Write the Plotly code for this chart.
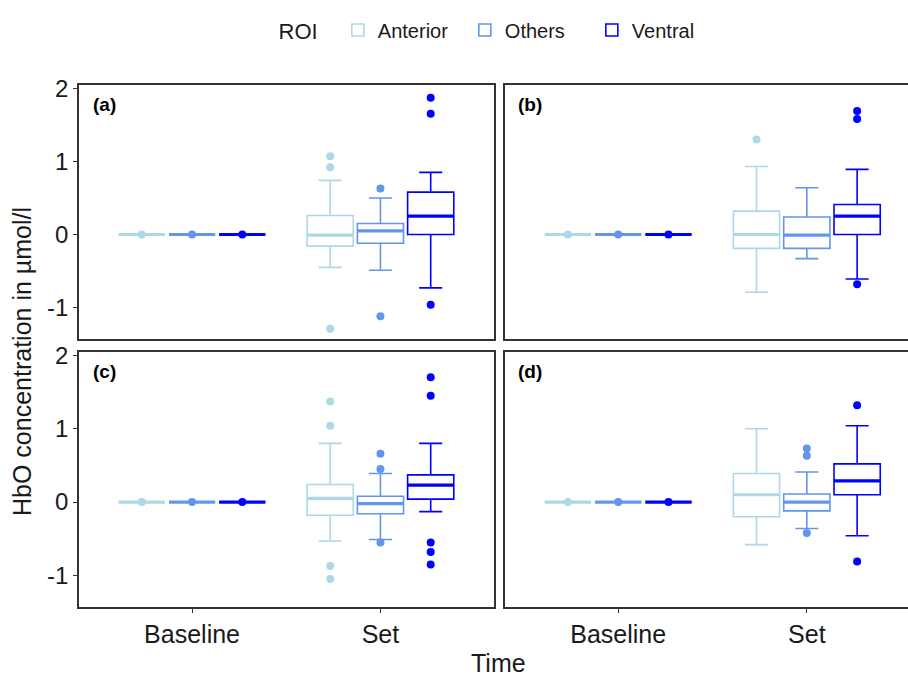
import plotly.graph_objects as go

# ---------------- data ----------------
time_labels = ["Baseline", "Set"]
rois = ["Anterior", "Others", "Ventral"]
roi_colors = {"Anterior": "#ADD8E6", "Others": "#6495ED", "Ventral": "#0000FF"}
panels = ["(a)", "(b)", "(c)", "(d)"]

# Set-phase box statistics per panel and ROI: [lower whisker, q1, median, q3, upper whisker]
set_stats = {
    "(a)": {"Anterior": [-0.45, -0.16, -0.01, 0.26, 0.74],
            "Others":   [-0.49, -0.12, 0.05, 0.15, 0.50],
            "Ventral":  [-0.73, 0.00, 0.25, 0.58, 0.85]},
    "(b)": {"Anterior": [-0.79, -0.19, 0.00, 0.32, 0.93],
            "Others":   [-0.33, -0.19, -0.01, 0.24, 0.64],
            "Ventral":  [-0.61, 0.00, 0.25, 0.41, 0.89]},
    "(c)": {"Anterior": [-0.53, -0.18, 0.05, 0.24, 0.80],
            "Others":   [-0.51, -0.16, -0.02, 0.08, 0.39],
            "Ventral":  [-0.13, 0.04, 0.23, 0.37, 0.80]},
    "(d)": {"Anterior": [-0.58, -0.20, 0.10, 0.39, 1.00],
            "Others":   [-0.36, -0.12, 0.00, 0.11, 0.41],
            "Ventral":  [-0.46, 0.10, 0.29, 0.52, 1.04]},
}
set_outliers = {
    "(a)": {"Anterior": [1.07, 0.92, -1.29], "Others": [0.63, -1.12], "Ventral": [1.87, 1.65, -0.96]},
    "(b)": {"Anterior": [1.30], "Others": [], "Ventral": [1.69, 1.58, -0.68]},
    "(c)": {"Anterior": [1.37, 1.04, -0.87, -1.05], "Others": [0.66, 0.45, -0.55],
            "Ventral": [1.70, 1.45, -0.55, -0.68, -0.85]},
    "(d)": {"Anterior": [], "Others": [0.73, 0.63, -0.42], "Ventral": [1.32, -0.81]},
}
# Baseline: all values zero (box collapsed at 0, points at 0)
baseline_stats = [0.0, 0.0, 0.0, 0.0, 0.0]
baseline_outliers = [0.0]

y_tick_vals = [-1, 0, 1, 2]
y_tick_text = ["-1", "0", "1", "2"]

# ---------------- layout helpers ----------------
dodge = 0.2667
box_w = 0.245
offsets = {"Anterior": -dodge, "Others": 0.0, "Ventral": dodge}
FONT = "Liberation Sans, Arial, sans-serif"

fig = go.Figure()

axis_ids = {"(a)": ("x", "y"), "(b)": ("x2", "y2"), "(c)": ("x3", "y3"), "(d)": ("x4", "y4")}

for p in panels:
    xa, ya = axis_ids[p]
    for roi in rois:
        col = roi_colors[roi]
        for ti, t in enumerate(time_labels):
            pos = ti + 1 + offsets[roi]
            st = baseline_stats if t == "Baseline" else set_stats[p][roi]
            outs = baseline_outliers if t == "Baseline" else set_outliers[p][roi]
            fig.add_trace(go.Box(
                x=[pos], lowerfence=[st[0]], q1=[st[1]], median=[st[2]], q3=[st[3]],
                upperfence=[st[4]], width=box_w, boxpoints=False,
                line=dict(color=col, width=1.6), fillcolor="rgba(255,255,255,0)",
                name=roi, legendgroup=roi,
                showlegend=(p == "(a)" and t == "Baseline"),
                xaxis=xa, yaxis=ya, hoverinfo="skip"))
            # thicker median line
            fig.add_trace(go.Scatter(
                x=[pos - box_w / 2, pos + box_w / 2], y=[st[2], st[2]], mode="lines",
                line=dict(color=col, width=3.2), showlegend=False,
                xaxis=xa, yaxis=ya, hoverinfo="skip"))
            if outs:
                fig.add_trace(go.Scatter(
                    x=[pos] * len(outs), y=outs, mode="markers",
                    marker=dict(color=col, size=8), showlegend=False,
                    xaxis=xa, yaxis=ya, hoverinfo="skip"))

W, H = 908, 677
ml, mr, mt, mb = 79, 0, 85, 70
pw, ph = W - ml - mr, H - mt - mb

def px_x(v):
    return (v - ml) / pw

def px_y(v):
    return (H - mb - v) / ph

x_left = [0, px_x(493.5)]
x_right = [px_x(505), 1]
y_top = [px_y(339), 1]
y_bot = [0, px_y(352)]
y_range = [-1.43, 2.045]
x_range_full = [0.4, 2.6]
x_range_right = [0.4, 2.6 - 12 / 188.6]

line_col = "#333333"
common_x = dict(showgrid=False, zeroline=False, showline=True, linecolor=line_col, linewidth=1.5,
                mirror=True, tickvals=[1, 2], ticktext=time_labels, automargin=False,
                tickfont=dict(family=FONT, size=25, color="#1a1a1a"))
common_y = dict(showgrid=False, zeroline=False, showline=True, linecolor=line_col, linewidth=1.5,
                range=y_range, tickvals=y_tick_vals, ticktext=y_tick_text, automargin=False,
                tickfont=dict(family=FONT, size=24, color="#1a1a1a"))

fig.update_layout(
    xaxis=dict(common_x, domain=x_left, range=x_range_full, anchor="y", showticklabels=False, ticks=""),
    yaxis=dict(common_y, domain=y_top, anchor="x", mirror=True, ticks="outside", ticklen=4, tickcolor=line_col),
    xaxis2=dict(common_x, domain=x_right, range=x_range_right, anchor="y2", showticklabels=False, ticks=""),
    yaxis2=dict(common_y, domain=y_top, anchor="x2", mirror=False, showticklabels=False, ticks=""),
    xaxis3=dict(common_x, domain=x_left, range=x_range_full, anchor="y3", ticks="outside", ticklen=4, tickcolor=line_col),
    yaxis3=dict(common_y, domain=y_bot, anchor="x3", mirror=True, ticks="outside", ticklen=4, tickcolor=line_col),
    xaxis4=dict(common_x, domain=x_right, range=x_range_right, anchor="y4", ticks="outside", ticklen=4, tickcolor=line_col),
    yaxis4=dict(common_y, domain=y_bot, anchor="x4", mirror=False, showticklabels=False, ticks=""),
)

annotations = []
label_pos = {"(a)": ("x", "y"), "(b)": ("x2", "y2"), "(c)": ("x3", "y3"), "(d)": ("x4", "y4")}
for p in panels:
    xa, ya = label_pos[p]
    annotations.append(dict(text="<b>%s</b>" % p, xref=xa + " domain", yref=ya + " domain",
                            x=0.028, y=0.925, xanchor="left", yanchor="middle", showarrow=False,
                            font=dict(family=FONT, size=19, color="black")))
annotations.append(dict(text="Time", xref="paper", yref="paper", x=px_x(498), y=px_y(663),
                        xanchor="center", yanchor="middle", showarrow=False,
                        font=dict(family=FONT, size=25, color="#1a1a1a")))
annotations.append(dict(text="HbO concentration in µmol/l", xref="paper", yref="paper",
                        x=px_x(22), y=px_y(362), xanchor="center", yanchor="middle", textangle=-90,
                        showarrow=False, font=dict(family=FONT, size=25, color="#1a1a1a")))

fig.update_layout(
    width=W, height=H, margin=dict(l=ml, r=mr, t=mt, b=mb, autoexpand=False),
    paper_bgcolor="white", plot_bgcolor="white",
    annotations=annotations,
    boxmode="overlay",
    legend=dict(orientation="h", x=px_x(498), y=px_y(30), xanchor="center", yanchor="middle",
                title=dict(text="ROI  ", side="left", font=dict(family=FONT, size=22, color="#1a1a1a")),
                font=dict(family=FONT, size=20, color="#1a1a1a"), itemwidth=30,
                entrywidth=82, bgcolor="rgba(0,0,0,0)"),
)

fig.write_html("out.html", post_script="document.body.style.margin='0px';",
               config={"displayModeBar": False})
